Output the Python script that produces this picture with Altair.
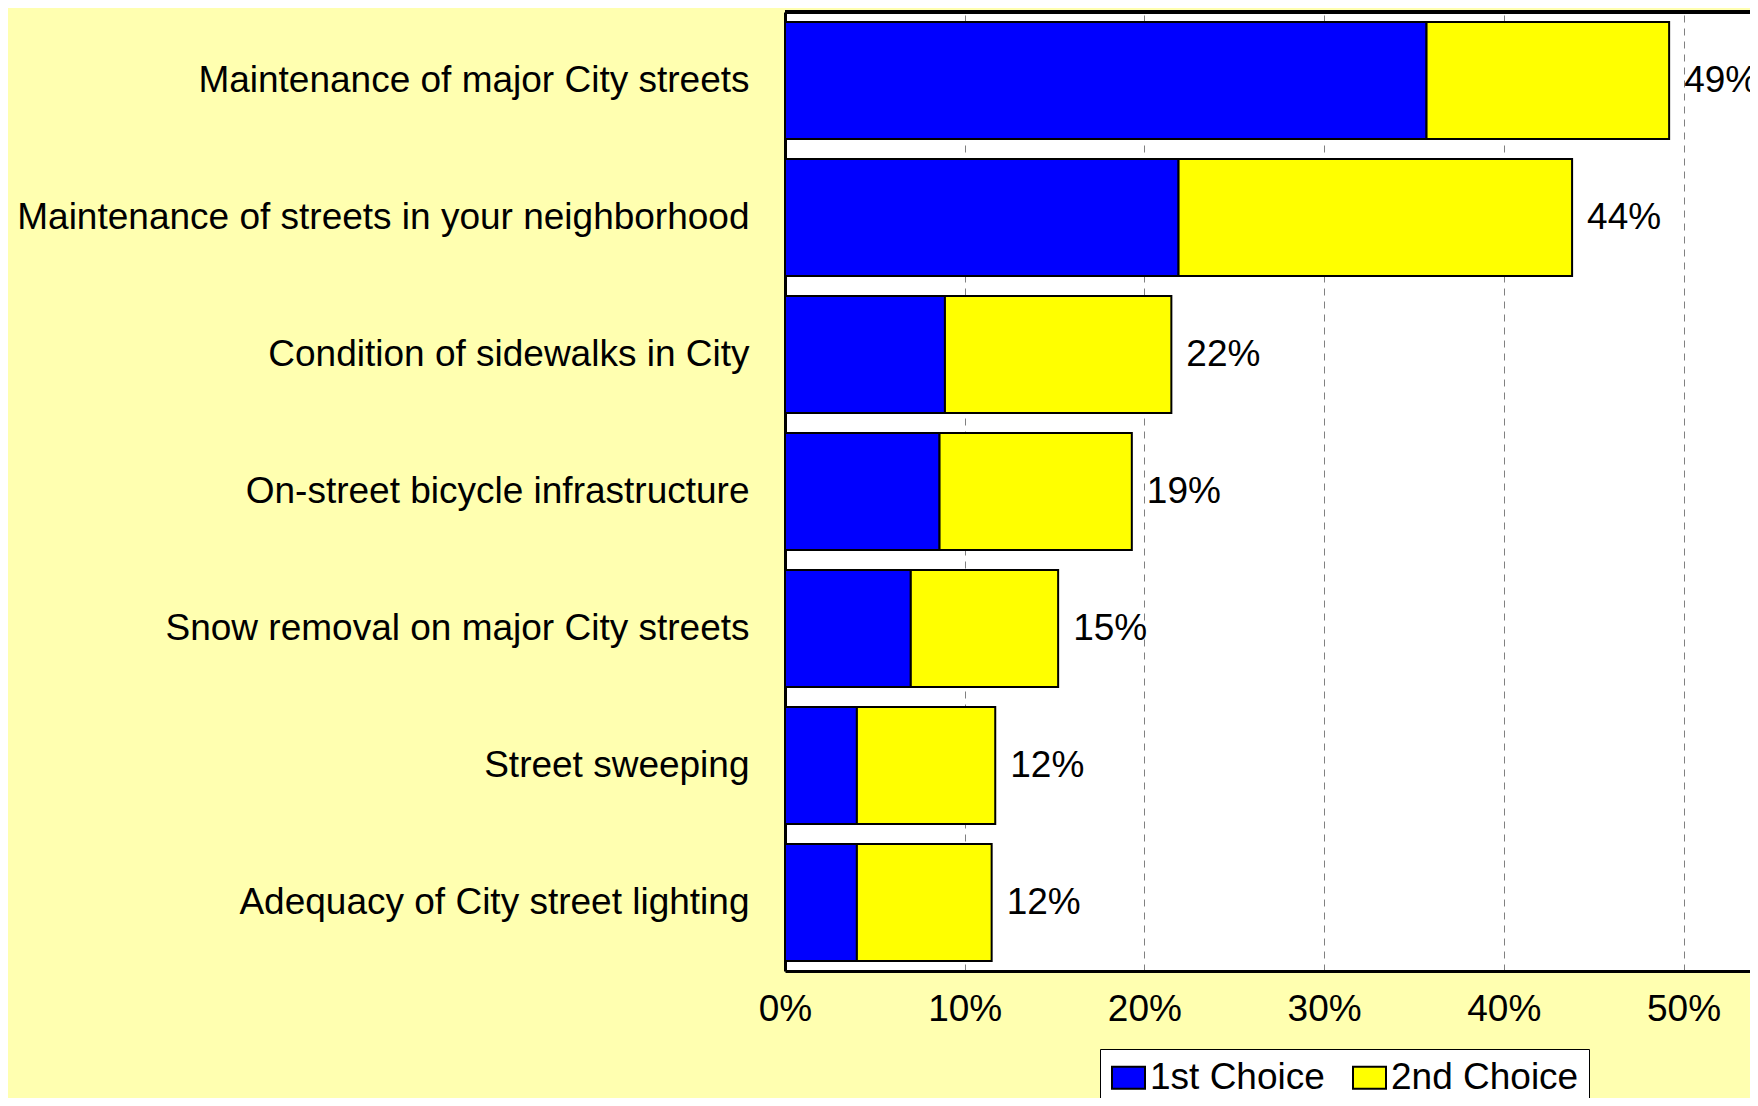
import altair as alt
import pandas as pd

categories = [
    "Maintenance of major City streets",
    "Maintenance of streets in your neighborhood",
    "Condition of sidewalks in City",
    "On-street bicycle infrastructure",
    "Snow removal on major City streets",
    "Street sweeping",
    "Adequacy of City street lighting",
]
first_choice = [35.7, 21.9, 8.9, 8.6, 7.0, 4.0, 4.0]
second_choice = [13.5, 21.9, 12.6, 10.7, 8.2, 7.7, 7.5]
total_labels = ["49%", "44%", "22%", "19%", "15%", "12%", "12%"]
series = ["1st Choice", "2nd Choice"]
colors = ["#0000FF", "#FFFF00"]
x_ticks = [0, 0.1, 0.2, 0.3, 0.4, 0.5]

rows = []
for c, a, b in zip(categories, first_choice, second_choice):
    rows.append({"item": c, "choice": series[0], "ord": 0, "value": a / 100})
    rows.append({"item": c, "choice": series[1], "ord": 1, "value": b / 100})
df = pd.DataFrame(rows)

tot = pd.DataFrame({
    "item": categories,
    "total": [(a + b) / 100 for a, b in zip(first_choice, second_choice)],
    "label": total_labels,
})

FONT = "Liberation Sans"
FS = 37
W = 965
H = 959
XMAX = 0.537

y_enc = alt.Y(
    "item:N",
    sort=categories,
    scale=alt.Scale(paddingInner=0.146, paddingOuter=0.073),
    axis=alt.Axis(
        title=None, ticks=False, labelPadding=36, labelLimit=1000,
        labelFontSize=FS, labelFont=FONT, labelColor="black",
        domainColor="black", domainWidth=3, grid=False,
    ),
)

x_scale = alt.Scale(domain=[0, XMAX], nice=False)

bars = alt.Chart(df).mark_bar(stroke="black", strokeWidth=2).encode(
    x=alt.X(
        "value:Q",
        stack="zero",
        scale=x_scale,
        axis=alt.Axis(
            title=None, values=x_ticks, format=".0%", ticks=False,
            labelFlush=False,
            labelPadding=20, labelFontSize=FS, labelFont=FONT, labelColor="black",
            domainColor="black", domainWidth=3,
            grid=True, gridColor="#808080", gridWidth=1, gridDash=[7, 6],
        ),
    ),
    y=y_enc,
    color=alt.Color(
        "choice:N",
        scale=alt.Scale(domain=series, range=colors),
        legend=alt.Legend(
            title=None, orient="none", legendX=315, legendY=1037,
            direction="horizontal", fillColor="white", strokeColor="black",
            padding=10, labelFontSize=FS, labelFont=FONT, labelColor="black",
            labelLimit=500,
            symbolType="M-1,-0.667H1V0.667H-1Z", symbolSize=1089,
            symbolStrokeColor="black", symbolStrokeWidth=2, symbolOpacity=1,
            columnPadding=24, labelOffset=3,
        ),
    ),
    order=alt.Order("ord:Q"),
)

text = alt.Chart(tot).mark_text(
    align="left", baseline="middle", dx=15, fontSize=FS, font=FONT, color="black",
    clip=True,
).encode(
    x=alt.X("total:Q", scale=x_scale),
    y=alt.Y("item:N", sort=categories),
    text="label:N",
)

top_border = alt.Chart(tot).mark_rule(color="black", strokeWidth=3).encode(
    y=alt.value(0), x=alt.value(0), x2=alt.value(W),
)

chart = alt.layer(bars, text, top_border).properties(
    width=W,
    height=H,
    background="#FFFFB0",
    autosize=alt.AutoSizeParams(type="none"),
    padding={"left": 777, "top": 4, "right": 0, "bottom": 127},
).configure_view(
    fill="white", strokeWidth=0
)

chart.save("out.html", embed_options={"renderer": "svg", "actions": False})
